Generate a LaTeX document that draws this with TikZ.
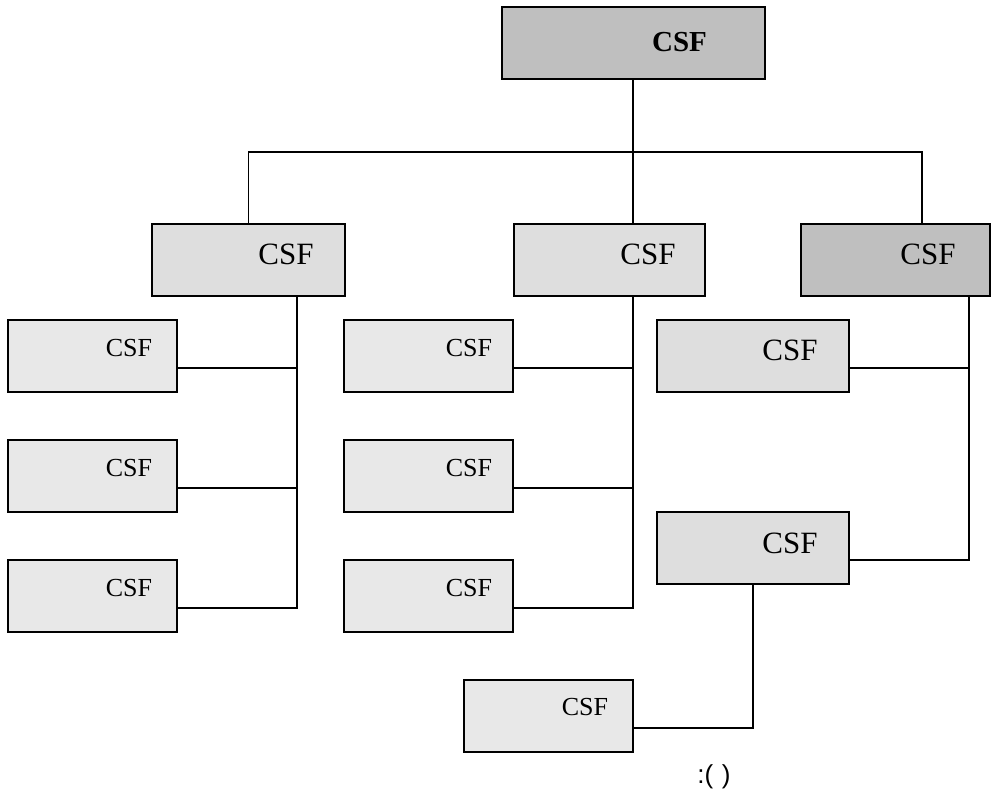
\documentclass[tikz,border=0pt]{standalone}
\usepackage{fontspec}
\setmainfont{Liberation Serif}
\newfontfamily\capfont{Liberation Sans}
\usetikzlibrary{positioning,calc}

\tikzset{
  csfbox/.style={draw = black, line width = 1.9pt, rectangle, inner sep = 0pt, minimum height = 72pt},
  csftext/.style={anchor = base, inner sep = 0pt, text = black},
  link/.style={draw = black, line width = 1.9pt}
}

\begin{document}
\begin{tikzpicture}[x=1pt, y=-1pt]
        \useasboundingbox (0,0) rectangle (992,799);

        %top
        \node[csfbox, minimum width = 263pt, fill = black!25] (top) at (633.5,43) {};
        \node[csftext, font = \fontsize{29}{34}\selectfont\bfseries] (topT) at (679.5,52) {CSF};

        %second level
        \node[csfbox, minimum width = 193pt, fill = black!13] (L) at (248.5,260) {};
        \node[csfbox, minimum width = 191pt, fill = black!13] (M) at (609.5,260) {};
        \node[csfbox, minimum width = 189pt, fill = black!25] (R) at (895.5,260) {};
        \node[csftext, font = \fontsize{31}{36}\selectfont] (LT) at (286,265) {CSF};
        \node[csftext, font = \fontsize{31}{36}\selectfont] (MT) at (648,265) {CSF};
        \node[csftext, font = \fontsize{31}{36}\selectfont] (RT) at (928,265) {CSF};

        %left and middle leaves
        \foreach \i/\y in {1/356, 2/476, 3/596} {
            \node[csfbox, minimum width = 169pt, fill = black!9] (l\i) at (92.5,\y) {};
            \node[csftext, font = \fontsize{26}{31}\selectfont] (l\i T) at (129,\y) {CSF};
            \node[csfbox, minimum width = 169pt, fill = black!9] (m\i) at (428.5,\y) {};
            \node[csftext, font = \fontsize{26}{31}\selectfont] (m\i T) at (469,\y) {CSF};
        }

        %right leaves
        \node[csfbox, minimum width = 192pt, fill = black!13] (r1) at (753,356) {};
        \node[csftext, font = \fontsize{31}{36}\selectfont] (r1T) at (790,360) {CSF};
        \node[csfbox, minimum width = 192pt, fill = black!13] (r2) at (753,548) {};
        \node[csftext, font = \fontsize{31}{36}\selectfont] (r2T) at (790,553) {CSF};

        %bottom leaf
        \node[csfbox, minimum width = 169pt, fill = black!9] (b1) at (548.5,716) {};
        \node[csftext, font = \fontsize{26}{31}\selectfont] (b1T) at (585,715) {CSF};

        %caption
        \node[csftext, font = \capfont\fontsize{26}{31}\selectfont] (cap) at (714,783) {:(\,\,)};

        %spine points
        \coordinate (bus) at (633,152);
        \coordinate (Rdrop) at (922,224);
        \coordinate (Lsp) at (297,296);
        \coordinate (Msp) at (633,296);
        \coordinate (Rsp) at (969,296);

        %top to second level
        \draw[link] (bus |- top.south) -- (bus);
        \draw[link] (L.north) |- (bus) -| (Rdrop);
        \draw[link] (bus) -- (bus |- M.north);

        %second level to leaves
        \foreach \n in {l1, l2, l3}
            \draw[link] ($(\n.east)+(0,12)$) -| (Lsp);
        \foreach \n in {m1, m2, m3}
            \draw[link] ($(\n.east)+(0,12)$) -| (Msp);
        \foreach \n in {r1, r2}
            \draw[link] ($(\n.east)+(0,12)$) -| (Rsp);
        \draw[link] ($(b1.east)+(0,12)$) -| (r2.south);
\end{tikzpicture}
\end{document}
